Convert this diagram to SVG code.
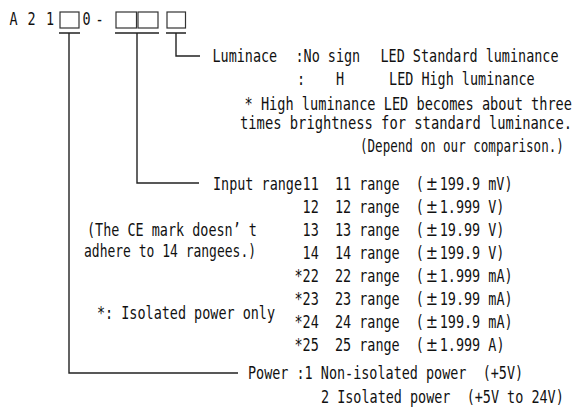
<svg xmlns="http://www.w3.org/2000/svg" width="576" height="409" viewBox="0 0 576 409" xml:space="preserve">
<style>
text{font-family:"DejaVu Sans Mono","Liberation Mono",monospace;font-size:17.5px;fill:#111;white-space:pre}
.pm{font-family:"DejaVu Sans",sans-serif;font-size:19px}
.box{fill:none;stroke:#333;stroke-width:1.2}
.ln{fill:none;stroke:#222;stroke-width:1.4}
</style>
<rect width="576" height="409" fill="#fff"/>
<g id="code">
<rect class="box" x="60" y="12" width="19" height="16"/>
<rect class="box" x="116" y="12" width="20.5" height="16"/>
<rect class="box" x="138" y="12" width="20" height="16"/>
<rect class="box" x="167" y="12" width="18.5" height="16"/>
<g transform="scale(0.7687 1)">
<text x="12.4" y="25">A</text>
<text x="35.8" y="25">2</text>
<text x="59.8" y="25">1</text>
<text x="107.3" y="25">0</text>
<text x="124.2" y="25">-</text>
</g>
</g>
<g id="connectors">
<path class="ln" d="M59,33H80M115,33H159M166,33H186"/>
<path class="ln" d="M176,33V56H200"/>
<path class="ln" d="M137,33V183H199"/>
<path class="ln" d="M69,33V373H238"/>
</g>
<g id="luminance">
<g transform="scale(0.7687 1)">
<text x="276.4" y="62">Luminace</text>
<text x="384.4" y="62">:No sign</text>
<text x="495" y="62">LED Standard luminance</text>
<text x="386.4" y="85">:</text>
<text x="437.1" y="85">H</text>
<text x="506.1" y="85">LED High luminance</text>
<text x="318.1" y="110" textLength="426" lengthAdjust="spacingAndGlyphs">* High luminance LED becomes about three</text>
<text x="312.2" y="129" textLength="431.9" lengthAdjust="spacingAndGlyphs">times brightness for standard luminance.</text>
</g>
<g transform="scale(0.7166 1)">
<text x="502.4" y="152">(Depend on our comparison.)</text>
</g>
</g>
<g id="input-range" transform="scale(0.7687 1)">
<text x="277.1" y="190">Input range</text>
<text x="393.6" y="190">11  11 range  (<tspan class="pm" dx="2.3">±</tspan><tspan dx="2.3">199.9 mV)</tspan></text>
<text x="393.6" y="213">12  12 range  (<tspan class="pm" dx="2.3">±</tspan><tspan dx="2.3">1.999 V)</tspan></text>
<text x="393.6" y="236">13  13 range  (<tspan class="pm" dx="2.3">±</tspan><tspan dx="2.3">19.99 V)</tspan></text>
<text x="393.6" y="259">14  14 range  (<tspan class="pm" dx="2.3">±</tspan><tspan dx="2.3">199.9 V)</tspan></text>
<text x="383.1" y="282">*22  22 range  (<tspan class="pm" dx="2.3">±</tspan><tspan dx="2.3">1.999 mA)</tspan></text>
<text x="383.1" y="305">*23  23 range  (<tspan class="pm" dx="2.3">±</tspan><tspan dx="2.3">19.99 mA)</tspan></text>
<text x="383.1" y="328">*24  24 range  (<tspan class="pm" dx="2.3">±</tspan><tspan dx="2.3">199.9 mA)</tspan></text>
<text x="383.1" y="351">*25  25 range  (<tspan class="pm" dx="2.3">±</tspan><tspan dx="2.3">1.999 A)</tspan></text>
</g>
<g id="notes" transform="scale(0.7687 1)">
<text x="113.2" y="236">(The CE mark doesn’ t</text>
<text x="109.3" y="257" textLength="223.8" lengthAdjust="spacingAndGlyphs">adhere to 14 rangees.)</text>
<text x="126.2" y="319">*: Isolated power only</text>
</g>
<g id="power" transform="scale(0.7687 1)">
<text x="322.6" y="379">Power :1 Non-isolated power  (+5V)</text>
<text x="417.6" y="403">2 Isolated power  (+5V to 24V)</text>
</g>
</svg>
